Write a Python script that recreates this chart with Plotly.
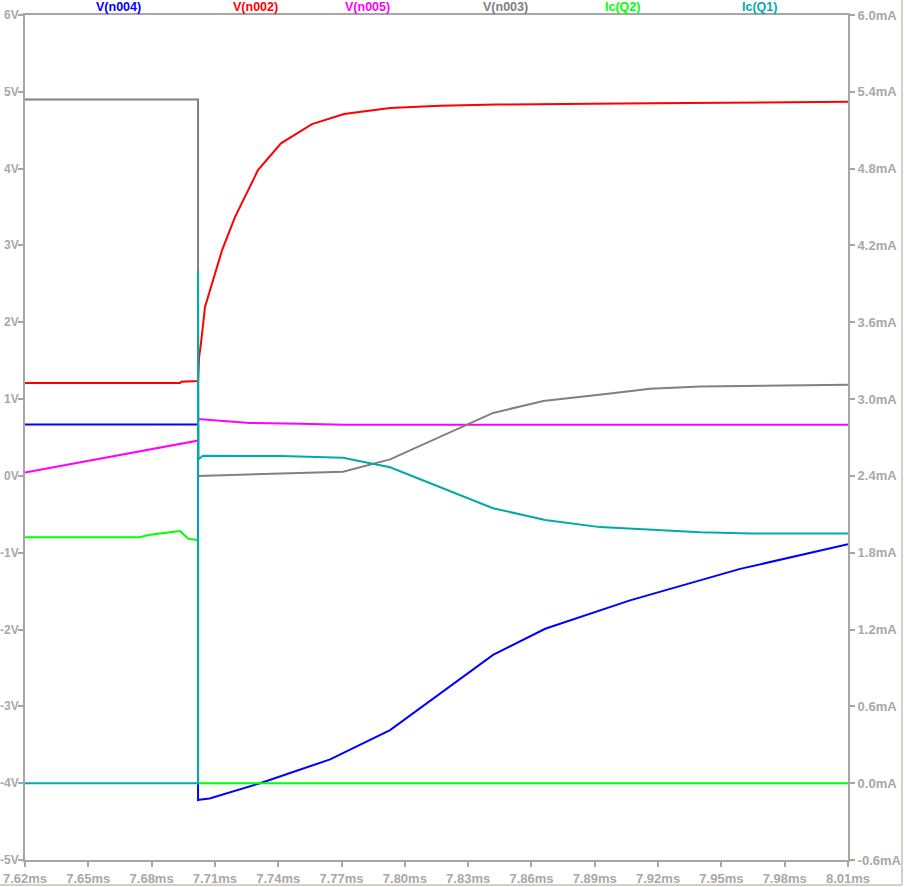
import plotly.graph_objects as go

# ---------------- data (time in ms, voltages in V, currents in mA) ----------------
t_n004 = [7.62, 7.702, 7.702, 7.7025, 7.7075, 7.7314, 7.7646, 7.793, 7.8418, 7.8665, 7.9067, 7.9589, 8.01]
v_n004 = [0.67, 0.67, -4.22, -4.215, -4.20, -4.0, -3.69, -3.31, -2.33, -1.99, -1.62, -1.21, -0.89]

t_n002 = [7.62, 7.6935, 7.694, 7.702, 7.7025, 7.7034, 7.7053, 7.7134, 7.7195, 7.7304, 7.7413, 7.756, 7.7712, 7.793, 7.8167, 7.8437, 7.916, 8.01]
v_n002 = [1.21, 1.21, 1.225, 1.235, 1.547, 1.73, 2.20, 2.94, 3.37, 3.98, 4.33, 4.58, 4.71, 4.79, 4.82, 4.835, 4.85, 4.87]

t_n005 = [7.62, 7.7015, 7.702, 7.702, 7.7134, 7.7265, 7.75, 7.7707, 7.7715, 8.01]
v_n005 = [0.045, 0.45, 0.46, 0.74, 0.72, 0.69, 0.68, 0.674, 0.665, 0.665]

t_n003 = [7.62, 7.702, 7.702, 7.7186, 7.7413, 7.7707, 7.793, 7.8418, 7.8656, 7.8973, 7.9162, 7.94, 8.01]
v_n003 = [4.9, 4.9, 0.0, 0.01, 0.03, 0.053, 0.215, 0.82, 0.974, 1.074, 1.136, 1.165, 1.186]

t_q2 = [7.62, 7.6736, 7.6793, 7.6935, 7.6973, 7.7015, 7.702, 7.702, 8.01]
i_q2 = [1.92, 1.92, 1.94, 1.97, 1.91, 1.90, 1.89, 0.0, 0.0]

t_q1 = [7.62, 7.702, 7.702, 7.7022, 7.7044, 7.7413, 7.7707, 7.793, 7.8418, 7.8665, 7.8925, 7.9162, 7.94, 7.9646, 8.01]
i_q1 = [0.0, 0.0, 4.0, 2.53, 2.558, 2.555, 2.542, 2.467, 2.147, 2.056, 2.0, 1.98, 1.96, 1.95, 1.95]

trace_names = ["V(n004)", "V(n002)", "V(n005)", "V(n003)", "Ic(Q2)", "Ic(Q1)"]
trace_colors = ["#0000ff", "#ff0000", "#ff00ff", "#808080", "#00ff00", "#00aaaa"]

x_ticks = [7.62, 7.65, 7.68, 7.71, 7.74, 7.77, 7.80, 7.83, 7.86, 7.89, 7.92, 7.95, 7.98, 8.01]
x_ticktext = ["7.62ms", "7.65ms", "7.68ms", "7.71ms", "7.74ms", "7.77ms", "7.80ms",
              "7.83ms", "7.86ms", "7.89ms", "7.92ms", "7.95ms", "7.98ms", "8.01ms"]
yv_ticks = [-5, -4, -3, -2, -1, 0, 1, 2, 3, 4, 5, 6]
yv_ticktext = ["-5V", "-4V", "-3V", "-2V", "-1V", "0V", "1V", "2V", "3V", "4V", "5V", "6V"]
yi_ticks = [-0.6, 0.0, 0.6, 1.2, 1.8, 2.4, 3.0, 3.6, 4.2, 4.8, 5.4, 6.0]
yi_ticktext = ["-0.6mA", "0.0mA", "0.6mA", "1.2mA", "1.8mA", "2.4mA", "3.0mA",
               "3.6mA", "4.2mA", "4.8mA", "5.4mA", "6.0mA"]

# ---------------- figure ----------------
series = [
    (t_n004, v_n004, "y"),
    (t_n002, v_n002, "y"),
    (t_n005, v_n005, "y"),
    (t_n003, v_n003, "y"),
    (t_q2, i_q2, "y2"),
    (t_q1, i_q1, "y2"),
]

fig = go.Figure()
for (tx, vy, ax), name, col in zip(series, trace_names, trace_colors):
    fig.add_trace(go.Scatter(x=tx, y=vy, yaxis=ax, name=name, mode="lines",
                             line=dict(color=col, width=2), showlegend=False))

axis_col = "#a6a6a6"
font_fam = "Liberation Sans, Arial, sans-serif"
tick_font = dict(family=font_fam, size=13, color="#a8a8a8", weight="bold")

common = dict(showgrid=False, zeroline=False, showline=True, linecolor=axis_col,
              linewidth=2, ticks="outside", ticklen=5, tickwidth=2,
              tickcolor=axis_col, tickfont=tick_font, automargin=False)

fig.update_layout(
    width=905, height=887,
    margin=dict(l=25, r=57, t=15, b=27, autoexpand=False),
    paper_bgcolor="white", plot_bgcolor="white",
    xaxis=dict(range=[7.62, 8.01], tickvals=x_ticks, ticktext=x_ticktext,
               mirror=True, **common),
    yaxis=dict(range=[-5, 6], tickvals=yv_ticks, showticklabels=False, **common),
    yaxis2=dict(range=[-0.6, 6.0], tickvals=yi_ticks, ticktext=yi_ticktext,
                overlaying="y", side="right", **common),
)

# left-axis labels placed tight against the ticks
for val, txt in zip(yv_ticks, yv_ticktext):
    fig.add_annotation(x=0, y=val, xref="paper", yref="y", text=txt,
                       showarrow=False, xanchor="right", yanchor="middle",
                       xshift=-5, borderpad=0,
                       font=dict(family=font_fam, size=12, color="#a8a8a8",
                                 weight="bold"))

for i, (name, col) in enumerate(zip(trace_names, trace_colors)):
    fig.add_annotation(x=(i + 0.5) / 6, y=1, xref="paper", yref="paper",
                       text=name, showarrow=False, yanchor="middle", yshift=8,
                       font=dict(family=font_fam, size=12.5, color=col, weight="bold"))

# window frame lines (right and bottom)
fig.add_shape(type="line", xref="paper", yref="paper", x0=1.0656, x1=1.0656,
              y0=-0.0296, y1=1.02, line=dict(color="#d4d0c8", width=2))
fig.add_shape(type="line", xref="paper", yref="paper", x0=-0.031, x1=1.0656,
              y0=-0.0296, y1=-0.0296, line=dict(color="#d4d0c8", width=2))

fig.write_html("out.html", config={"displayModeBar": False},
               post_script="document.body.style.margin='0';document.body.style.overflow='hidden';")
